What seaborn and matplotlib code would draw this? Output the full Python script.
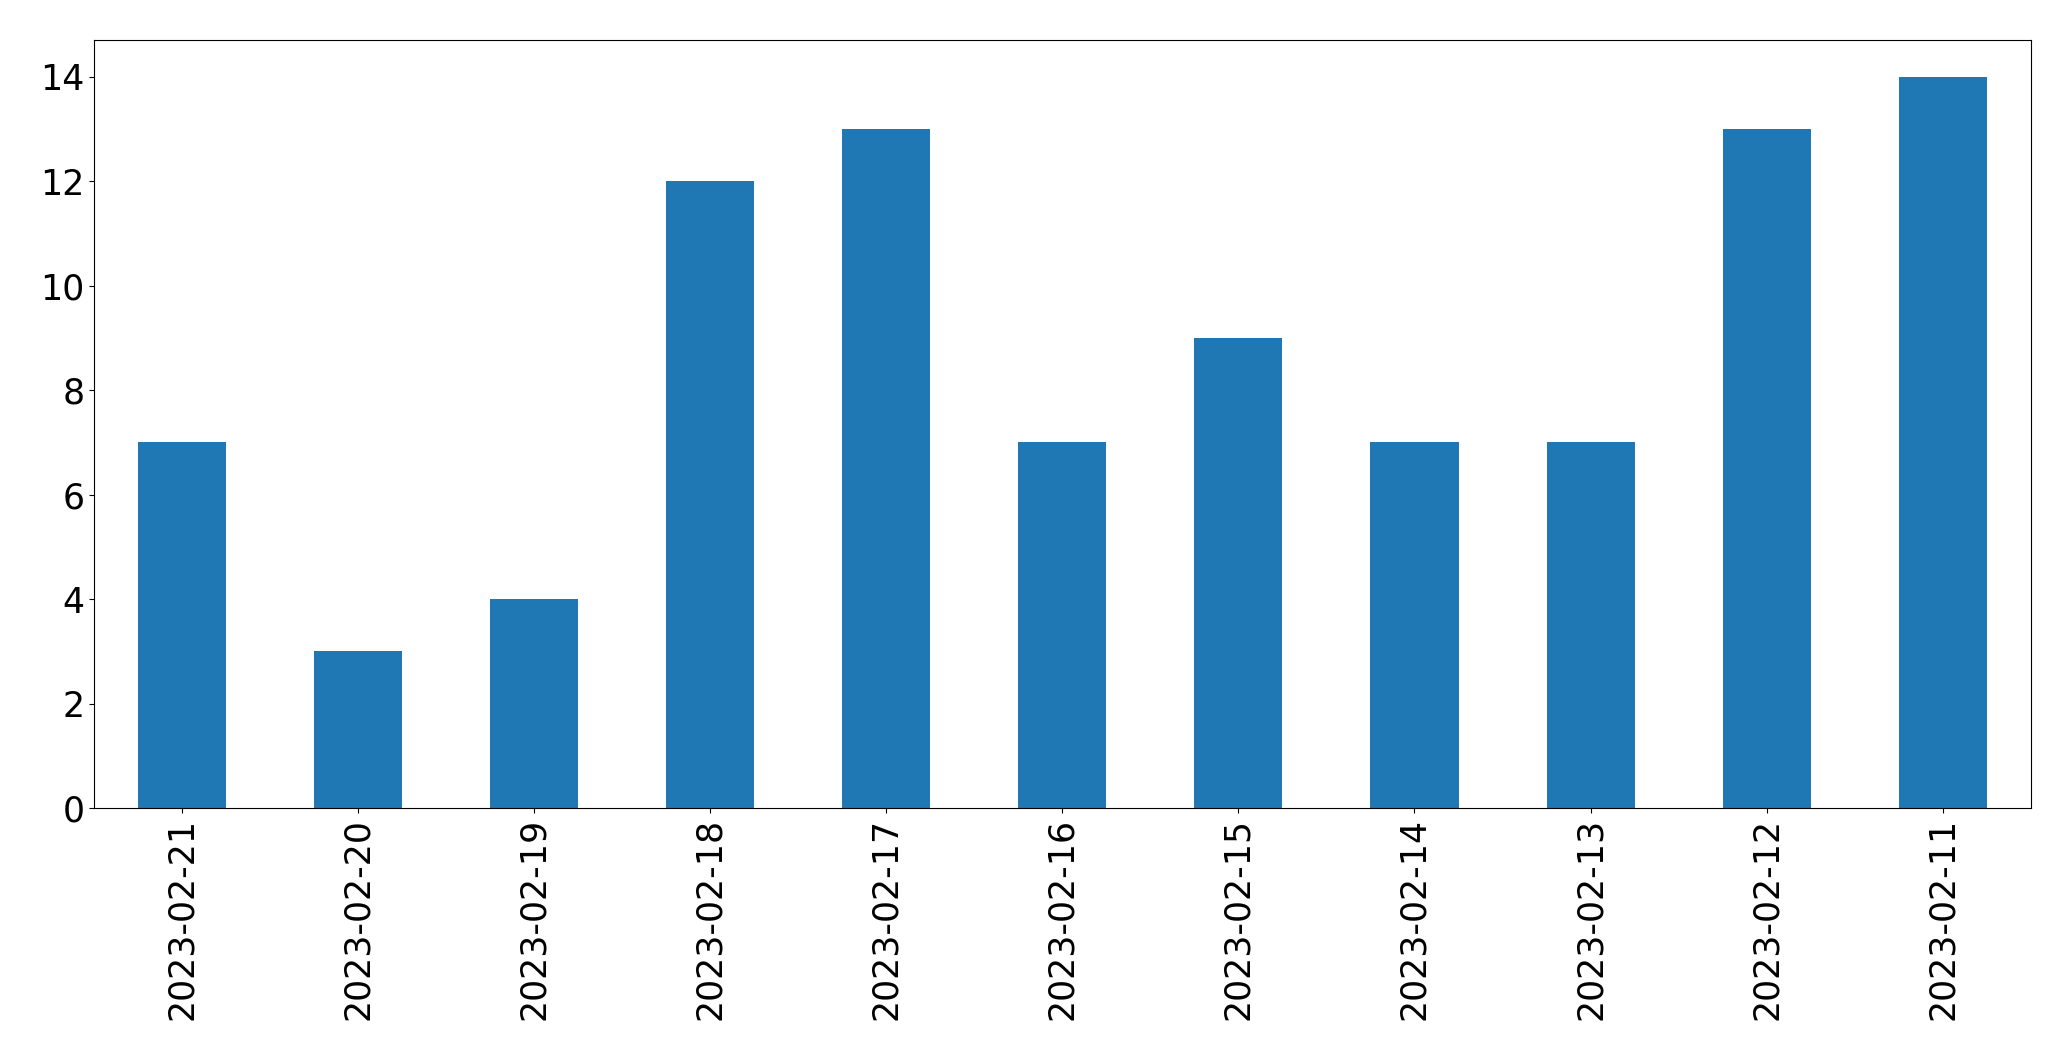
import matplotlib
matplotlib.use('Agg')
import pandas as pd
import matplotlib.pyplot as plt
import seaborn as sns

# Counts per day (newest first, as in the source chart)
dates = ["2023-02-21", "2023-02-20", "2023-02-19", "2023-02-18", "2023-02-17",
         "2023-02-16", "2023-02-15", "2023-02-14", "2023-02-13", "2023-02-12",
         "2023-02-11"]
counts = [7, 3, 4, 12, 13, 7, 9, 7, 7, 13, 14]

df = pd.DataFrame({"date": dates, "count": counts})

fig = plt.figure(figsize=(20.71, 10.61), dpi=100)
ax = fig.add_axes([0.0455, 0.2385, 0.935, 0.7235])
sns.barplot(data=df, x="date", y="count", order=dates, color="#1f77b4",
            saturation=1, width=0.5, ax=ax)
ax.set_xlim(-0.5, len(dates) - 0.5)
ax.set_ylim(0, 14.7)
ax.set_xlabel("")
ax.set_ylabel("")
ax.tick_params(axis="both", labelsize=25)
ax.tick_params(axis="x", labelrotation=90)
fig.savefig("out.png", dpi=100)
